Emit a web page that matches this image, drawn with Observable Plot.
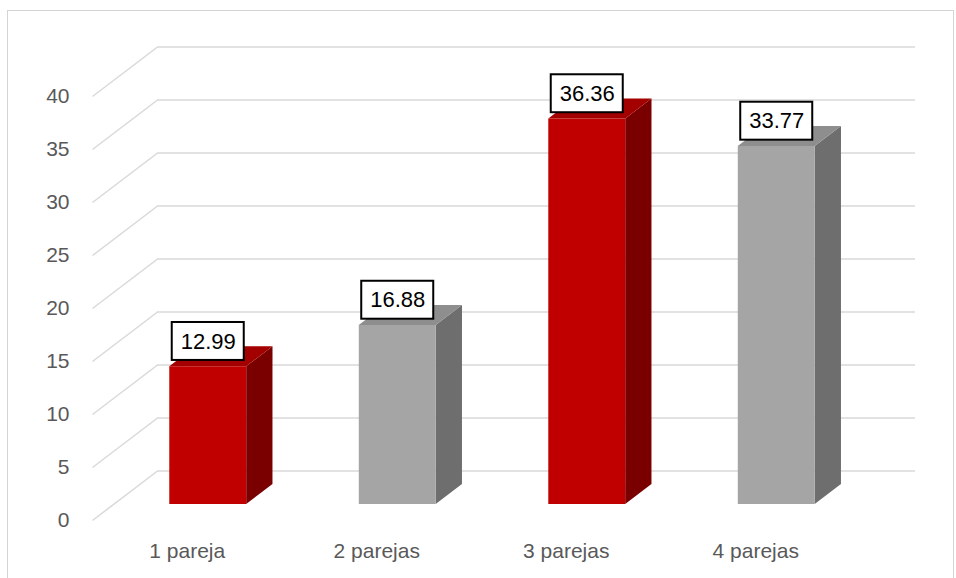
<!DOCTYPE html>
<html>
<head>
<meta charset="utf-8">
<script src="https://cdn.jsdelivr.net/npm/d3@7"></script>
<script src="https://cdn.jsdelivr.net/npm/@observablehq/plot@0.6"></script>
<style>
  html, body { margin: 0; padding: 0; background: #fff; }
  #wrap { position: relative; width: 956px; height: 578px; overflow: hidden; }
  #border { position: absolute; left: 7px; top: 10px; width: 947px; height: 600px; border: 1px solid #d4d4d4; box-sizing: border-box; pointer-events: none; }
  #chart { position: absolute; left: 0; top: 0; }
</style>
</head>
<body>
<div id="wrap"><div id="border"></div><div id="chart"></div></div>
<script>
// ---- data ----
const categories = ["1 pareja", "2 parejas", "3 parejas", "4 parejas"];
const values = [12.99, 16.88, 36.36, 33.77];
const frontColors = ["#c00000", "#a5a5a5", "#c00000", "#a5a5a5"];
const sideColors = ["#7a0000", "#6e6e6e", "#7a0000", "#6e6e6e"];
const topColors = ["#a30000", "#8e8e8e", "#a30000", "#8e8e8e"];
const yTicks = [0, 5, 10, 15, 20, 25, 30, 35, 40];

// ---- oblique projection parameters (in data units) ----
const DX = 0.343;   // full depth, in category units
const DY = 4.67;    // full depth, in value units
const D0 = 0.323;   // bar front depth
const D1 = 0.727;   // bar back depth
const W = 0.406;    // bar width, in category units

const vertFaces = [];  // front + side faces (areaY)
const topFaces = [];   // top faces (areaX)
const labels = [];
values.forEach((v, i) => {
  const xl = i + 0.5 - W / 2, xr = i + 0.5 + W / 2;
  // front
  vertFaces.push({id: `f${i}`, x: xl + D0 * DX, y1: D0 * DY, y2: v + D0 * DY, color: frontColors[i], order: 1});
  vertFaces.push({id: `f${i}`, x: xr + D0 * DX, y1: D0 * DY, y2: v + D0 * DY, color: frontColors[i], order: 1});
  // side
  vertFaces.push({id: `s${i}`, x: xr + D0 * DX, y1: D0 * DY, y2: v + D0 * DY, color: sideColors[i], order: 0});
  vertFaces.push({id: `s${i}`, x: xr + D1 * DX, y1: D1 * DY, y2: v + D1 * DY, color: sideColors[i], order: 0});
  // top
  topFaces.push({id: `t${i}`, y: v + D0 * DY, x1: xl + D0 * DX, x2: xr + D0 * DX, color: topColors[i]});
  topFaces.push({id: `t${i}`, y: v + D1 * DY, x1: xl + D1 * DX, x2: xr + D1 * DX, color: topColors[i]});
  labels.push({x: i + 0.5 + D0 * DX, y: v + 3.9, v});
});
const sides = vertFaces.filter(d => d.order === 0);
const fronts = vertFaces.filter(d => d.order === 1);

const LW = 0.38, LH = 3.58;

const chart = Plot.plot({
  width: 956,
  height: 578,
  marginLeft: 92,
  marginRight: 106,
  marginTop: 96,
  marginBottom: 58,
  style: {fontFamily: "'Liberation Sans', Arial, sans-serif", fontSize: "21px", color: "#595959", background: "transparent", overflow: "visible"},
  x: {domain: [0, 4], ticks: [0.5, 1.5, 2.5, 3.5], tickFormat: d => categories[Math.floor(d)], tickSize: 0, tickPadding: 23, label: null},
  y: {domain: [0, 40], ticks: yTicks, tickSize: 0, tickPadding: 23, label: null},
  marks: [
    // back wall grid lines
    Plot.ruleY(yTicks, {x1: DX, x2: 4 + DX, y: d => d + DY, stroke: "#d9d9d9", strokeWidth: 1.5}),
    // side-wall diagonal grid lines
    Plot.link(yTicks, {x1: 0, y1: d => d, x2: DX, y2: d => d + DY, stroke: "#d9d9d9", strokeWidth: 1.5}),
    // bar side faces
    Plot.areaY(sides, {x: "x", y1: "y1", y2: "y2", z: "id", fill: "color"}),
    // bar top faces
    Plot.areaX(topFaces, {y: "y", x1: "x1", x2: "x2", z: "id", fill: "color"}),
    // bar front faces
    Plot.areaY(fronts, {x: "x", y1: "y1", y2: "y2", z: "id", fill: "color"}),
    // data label boxes
    Plot.rect(labels, {x1: d => d.x - LW / 2, x2: d => d.x + LW / 2, y1: d => d.y - LH / 2, y2: d => d.y + LH / 2, fill: "white", stroke: "black", strokeWidth: 2}),
    Plot.text(labels, {x: "x", y: "y", text: d => d3.format(".2f")(d.v), fill: "black", fontSize: 22, fontFamily: "'Liberation Sans', Arial, sans-serif"})
  ]
});
document.getElementById("chart").appendChild(chart);
</script>
</body>
</html>
